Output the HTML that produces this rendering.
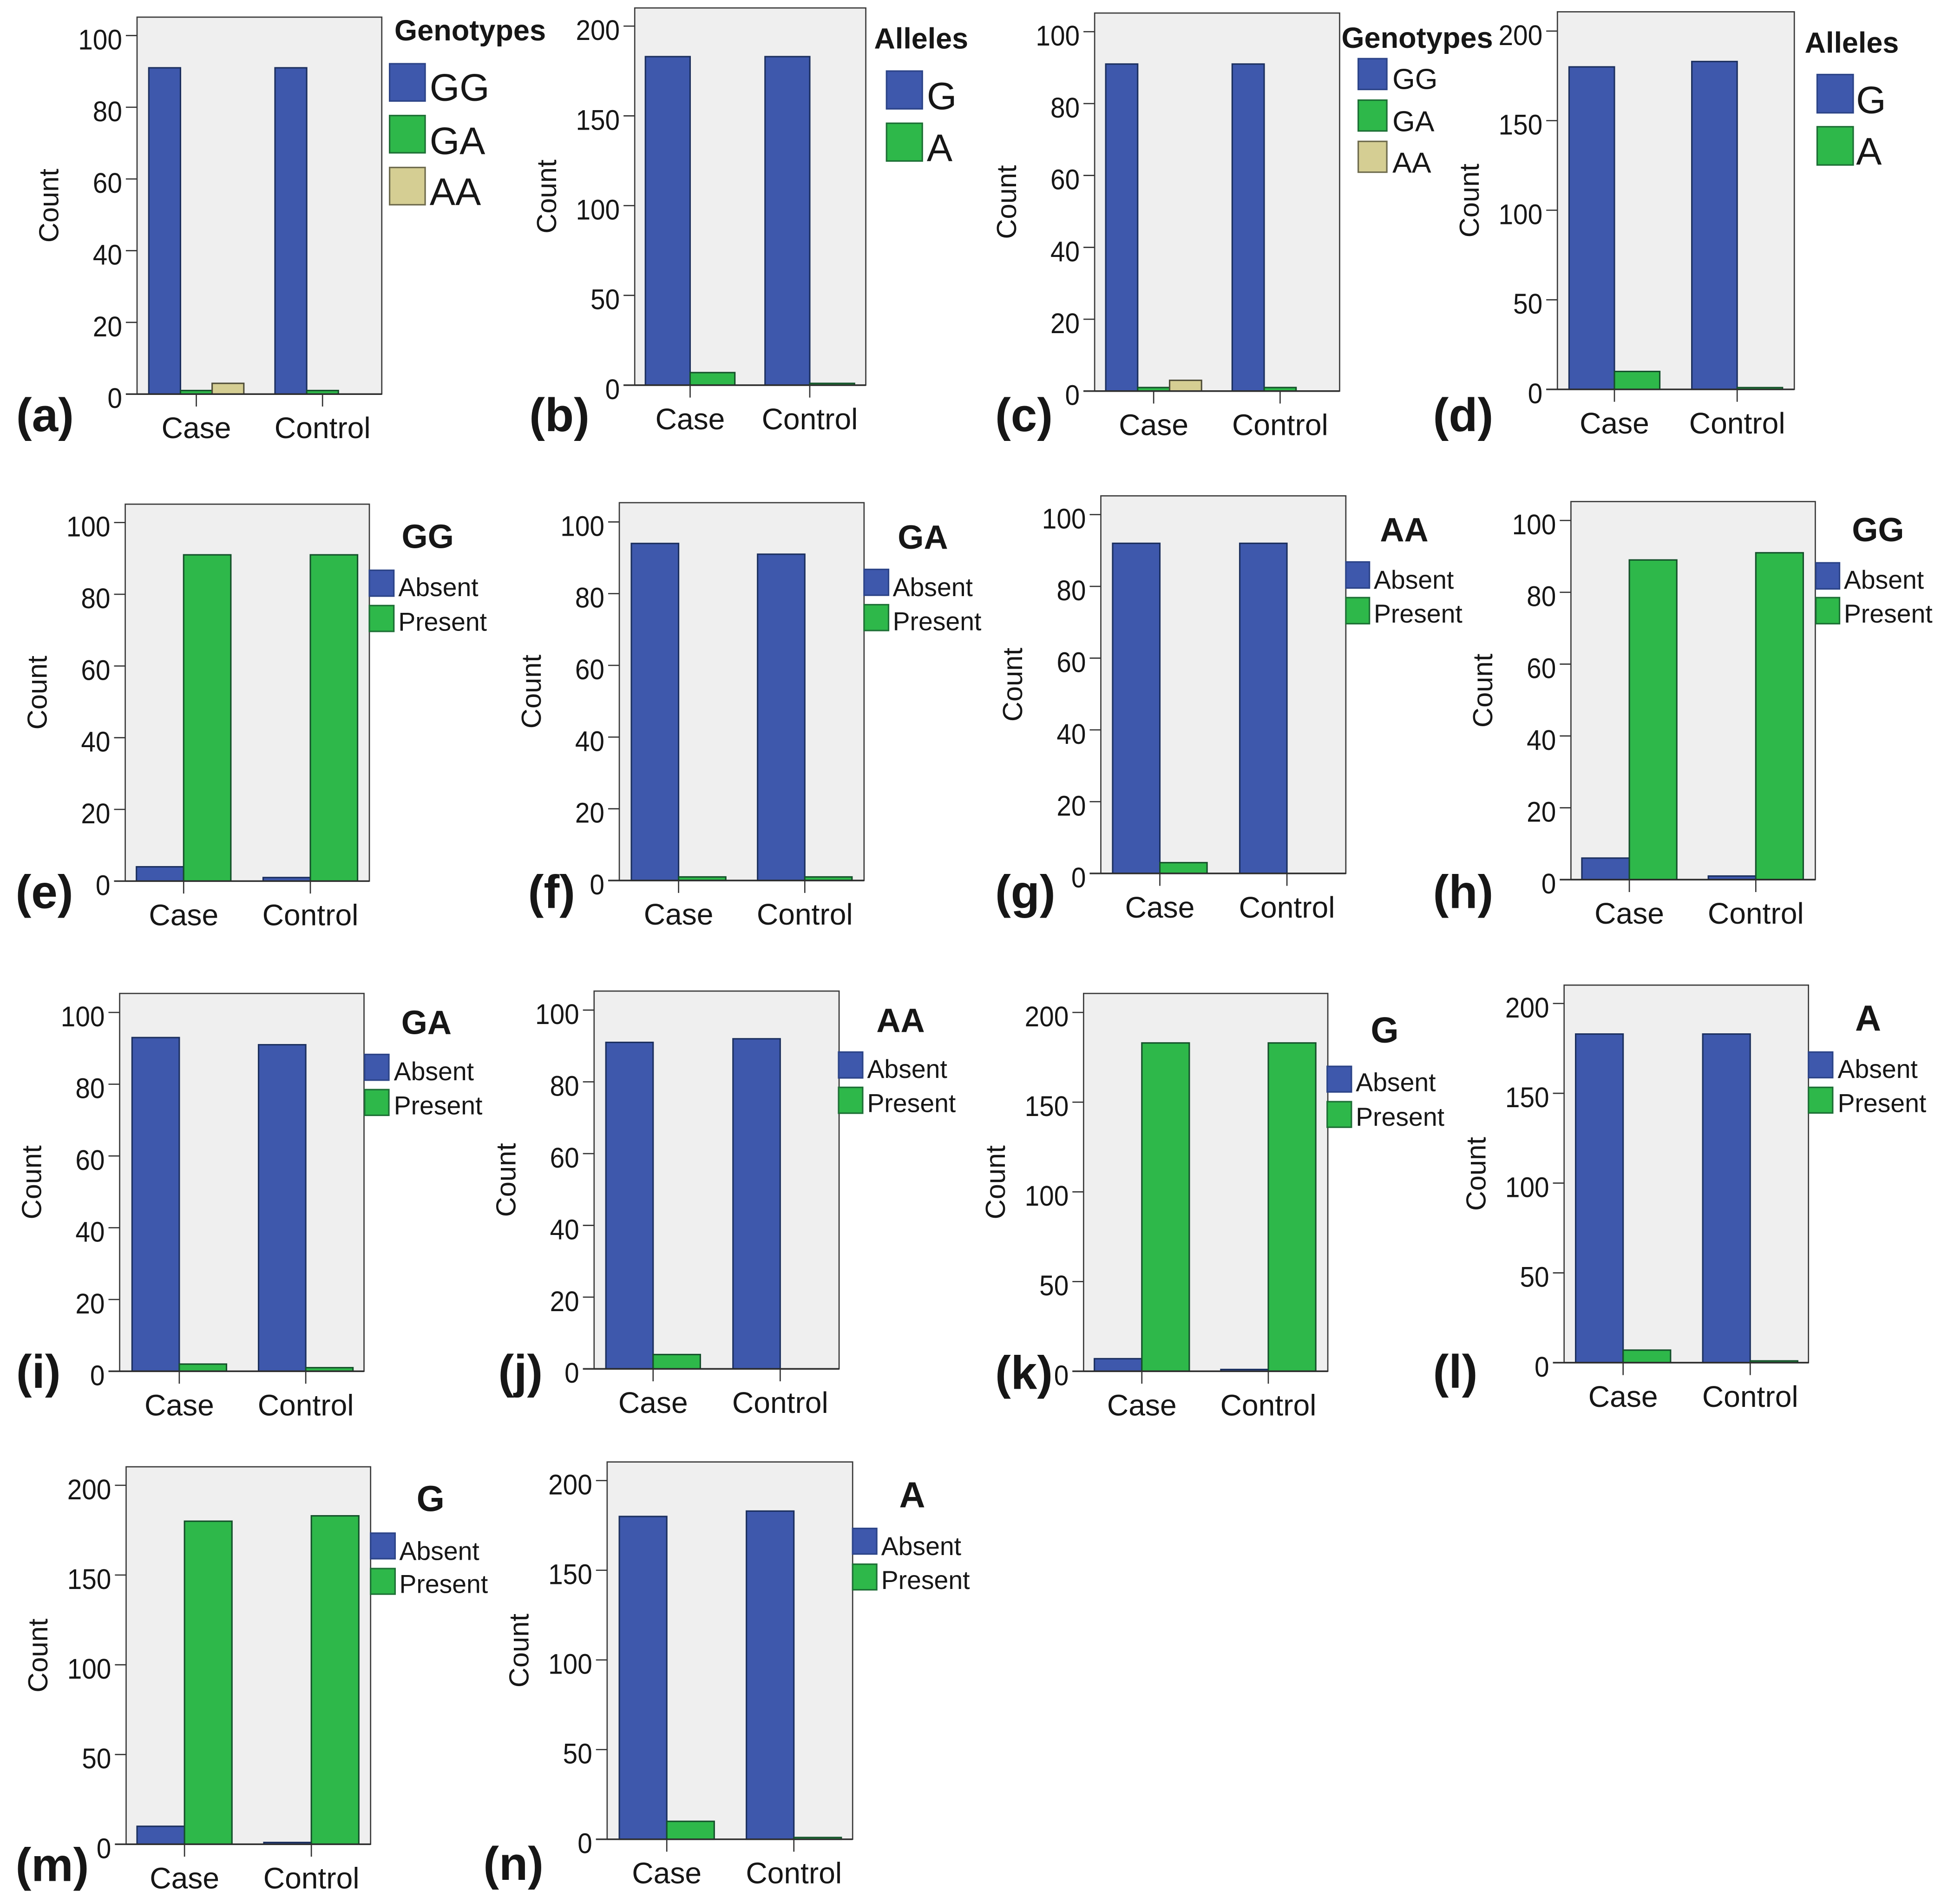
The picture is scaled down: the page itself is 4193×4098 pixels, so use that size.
<!DOCTYPE html>
<html lang="en">
<head>
<meta charset="utf-8">
<title>Genotype and allele count charts</title>
<style>
html,body{margin:0;padding:0;background:#fff;}
svg{display:block;}
text{font-family:"Liberation Sans",sans-serif;fill:#161616;}
</style>
</head>
<body>
<svg id="figure" xmlns="http://www.w3.org/2000/svg" width="4193" height="4098" viewBox="0 0 1568 1532.5"></svg>
<script>
const categories = ['Case', 'Control'];
const ticks100 = [0, 20, 40, 60, 80, 100];
const ticks200 = [0, 50, 100, 150, 200];
const genotypeNames = ['GG', 'GA', 'AA'];
const alleleNames = ['G', 'A'];
const presenceNames = ['Absent', 'Present'];

const aGG = [91, 91];
const aGA = [1, 1];
const aAA = [3, 0];
const bG = [183, 183];
const bA = [7, 1];
const cGG = [91, 91];
const cGA = [1, 1];
const cAA = [3, 0];
const dG = [180, 183];
const dA = [10, 1];
const eAbsent = [4, 1];
const ePresent = [91, 91];
const fAbsent = [94, 91];
const fPresent = [1, 1];
const gAbsent = [92, 92];
const gPresent = [3, 0];
const hAbsent = [6, 1];
const hPresent = [89, 91];
const iAbsent = [93, 91];
const iPresent = [2, 1];
const jAbsent = [91, 92];
const jPresent = [4, 0];
const kAbsent = [7, 1];
const kPresent = [183, 183];
const lAbsent = [183, 183];
const lPresent = [7, 1];
const mAbsent = [10, 1];
const mPresent = [180, 183];
const nAbsent = [180, 183];
const nPresent = [10, 1];

const fills = ['#3e58ac', '#2eb84a', '#d5ce93'];
const swatchEdges = ['#2c4488', '#1d6f35', '#6f6c4e'];
const barEdges = ['#1b2f5e', '#14502a', '#4f4d38'];

const panels = [
  {id:'a', series:[aGG,aGA,aAA], names:genotypeNames, ticks:ticks100, L:110.3, T:13.8, R:307.3, y0:317.2, yTop:28.6, c1:47.7, c2:149.3, bw:25.5, tag:[13,347],
   title:'Genotypes', tx:317.5, ty:32.5, ts:23.6, sx:313.6, sw:28.6, sy:[51.3,93,134.8], sh:30, lx:345.8, ly:[81,124,165], ls:31},
  {id:'b', series:[bG,bA], names:alleleNames, ticks:ticks200, L:510.9, T:6.4, R:696.9, y0:310, yTop:21, c1:44.6, c2:140.9, bw:36, tag:[426,347],
   title:'Alleles', tx:703.6, ty:39, ts:23.5, sx:713.6, sw:28.8, sy:[57.2,99.2], sh:30.4, lx:746, ly:[87.8,129.5], ls:31},
  {id:'c', series:[cGG,cGA,cAA], names:genotypeNames, ticks:ticks100, L:881.1, T:10.5, R:1078.3, y0:314.8, yTop:25.5, c1:47.5, c2:149.3, bw:25.7, tag:[801,347],
   title:'Genotypes', tx:1079.8, ty:38.6, ts:23.6, sx:1093.3, sw:23, sy:[47.2,80.6,113.8], sh:24.8, lx:1120.8, ly:[71.6,105.7,139], ls:23.4},
  {id:'d', series:[dG,dA], names:alleleNames, ticks:ticks200, L:1253.6, T:9.5, R:1444.3, y0:313.4, yTop:25, c1:45.9, c2:144.7, bw:36.5, tag:[1153.5,347],
   title:'Alleles', tx:1452.7, ty:42.5, ts:23.5, sx:1462.7, sw:29, sy:[60,102], sh:30.8, lx:1494, ly:[91,132.4], ls:31},
  {id:'e', series:[eAbsent,ePresent], names:presenceNames, ticks:ticks100, L:100.8, T:405.8, R:297.3, y0:709.2, yTop:420.6, c1:47, c2:149, bw:38, tag:[12.5,731],
   title:'GG', tx:323.3, ty:441, ts:27, sx:297.3, sw:19.7, sy:[459,487.4], sh:20.8, lx:320.6, ly:[479.8,507.7], ls:20.7},
  {id:'f', series:[fAbsent,fPresent], names:presenceNames, ticks:ticks100, L:498.5, T:404.6, R:695.5, y0:708.7, yTop:420.1, c1:47.7, c2:149.3, bw:38, tag:[425,731],
   title:'GA', tx:722.6, ty:441.6, ts:27, sx:695.5, sw:19.7, sy:[458.3,486.7], sh:20.8, lx:718.6, ly:[479.8,507.2], ls:20.7},
  {id:'g', series:[gAbsent,gPresent], names:presenceNames, ticks:ticks100, L:886.1, T:399.1, R:1083.3, y0:703, yTop:414.2, c1:47.5, c2:149.8, bw:38, tag:[801,731],
   title:'AA', tx:1110.8, ty:435.6, ts:27, sx:1083.3, sw:19, sy:[452.3,481], sh:21, lx:1105.8, ly:[473.8,501.2], ls:20.7},
  {id:'h', series:[hAbsent,hPresent], names:presenceNames, ticks:ticks100, L:1264.5, T:403.7, R:1461.2, y0:708, yTop:418.9, c1:47, c2:148.8, bw:38.2, tag:[1153.5,731],
   title:'GG', tx:1490.7, ty:435.6, ts:27, sx:1461.7, sw:19, sy:[453,481], sh:21, lx:1484.2, ly:[473.8,501.2], ls:20.7},
  {id:'i', series:[iAbsent,iPresent], names:presenceNames, ticks:ticks100, L:96.3, T:799.6, R:293, y0:1103.7, yTop:814.9, c1:48, c2:149.8, bw:38, tag:[13,1117],
   title:'GA', tx:323, ty:832.3, ts:27, sx:293.5, sw:19.5, sy:[848.7,877], sh:20.7, lx:317, ly:[869.5,897], ls:20.7},
  {id:'j', series:[jAbsent,jPresent], names:presenceNames, ticks:ticks100, L:478.2, T:797.7, R:675.4, y0:1101.8, yTop:813, c1:47.5, c2:149.8, bw:38, tag:[401,1117],
   title:'AA', tx:705.4, ty:830.6, ts:27, sx:675, sw:19.4, sy:[846.8,875.2], sh:20.8, lx:698, ly:[867.6,895], ls:20.7},
  {id:'k', series:[kAbsent,kPresent], names:presenceNames, ticks:ticks200, L:872.2, T:799.6, R:1068.8, y0:1103.7, yTop:814.9, c1:46.9, c2:148.7, bw:38.2, tag:[801,1118],
   title:'G', tx:1103.3, ty:839, ts:29, sx:1068.3, sw:19.5, sy:[858.3,886.7], sh:20.6, lx:1091.3, ly:[878.3,906.2], ls:20.7},
  {id:'l', series:[lAbsent,lPresent], names:presenceNames, ticks:ticks200, L:1259, T:792.9, R:1455.7, y0:1096.8, yTop:807.7, c1:47.5, c2:149.8, bw:38.2, tag:[1153.5,1117],
   title:'A', tx:1493.2, ty:829.4, ts:29, sx:1455.7, sw:19.5, sy:[846.8,875.2], sh:20.6, lx:1479.2, ly:[867.6,895], ls:20.7},
  {id:'m', series:[mAbsent,mPresent], names:presenceNames, ticks:ticks200, L:101.5, T:1180.6, R:298.3, y0:1484.4, yTop:1195.5, c1:47, c2:149.1, bw:38.2, tag:[12.5,1514],
   title:'G', tx:335.3, ty:1216.2, ts:29, sx:298.3, sw:19.7, sy:[1234,1262.5], sh:20.6, lx:321.4, ly:[1255.5,1282.2], ls:20.7},
  {id:'n', series:[nAbsent,nPresent], names:presenceNames, ticks:ticks200, L:488.7, T:1176.7, R:686.3, y0:1480.4, yTop:1191.7, c1:48, c2:150.3, bw:38.2, tag:[389,1513],
   title:'A', tx:723.8, ty:1213.1, ts:29, sx:686.3, sw:19.4, sy:[1230.2,1259], sh:20.6, lx:709.3, ly:[1251.6,1279], ls:20.7}
];

const NS = 'http://www.w3.org/2000/svg';
const figure = document.getElementById('figure');

function shape(parent, tag, props) {
  const el = document.createElementNS(NS, tag);
  for (const k in props) el.setAttribute(k, props[k]);
  parent.appendChild(el);
  return el;
}
function label(parent, str, props) {
  const el = shape(parent, 'text', props);
  el.textContent = str;
  return el;
}

panels.forEach(function (p) {
  const g = shape(figure, 'g', {});
  
  

  const maxTick = p.ticks[p.ticks.length - 1];
  const yScale = function (v) { return p.y0 - (v / maxTick) * (p.y0 - p.yTop); };
  const xScale = function (i) { return p.L + (i === 0 ? p.c1 : p.c2); };

  const plot = shape(g, 'rect', {x:p.L, y:p.T, width:p.R - p.L, height:p.y0 - p.T, fill:'#efefef', stroke:'#3a3a3a', 'stroke-width':1});
  
  

  p.series.forEach(function (vals, s) {
    vals.forEach(function (v, i) {
      if (v <= 0) return;
      const x = xScale(i) - p.series.length * p.bw / 2 + s * p.bw;
      const bar = shape(g, 'rect', {x:x, y:yScale(v), width:p.bw, height:p.y0 - yScale(v), fill:fills[s], stroke:barEdges[s], 'stroke-width':1.15});
      
      
    });
  });

  const baseline = shape(g, 'line', {x1:p.L - 9, x2:p.R, y1:p.y0, y2:p.y0, stroke:'#2c2c2c', 'stroke-width':1.3});
  
  

  p.ticks.forEach(function (t) {
    const y = yScale(t);
    const mark = shape(g, 'line', {x1:p.L - 9, x2:p.L, y1:y, y2:y, stroke:'#333', 'stroke-width':1});
    
    
    const txt = label(g, String(t), {x:p.L - 12, y:y + 11.2, 'text-anchor':'end', 'font-size':23, textLength:String(t).length * 11.8, lengthAdjust:'spacingAndGlyphs'});
    
    
  });

  categories.forEach(function (c, i) {
    const x = xScale(i);
    const mark = shape(g, 'line', {x1:x, x2:x, y1:p.y0, y2:p.y0 + 10, stroke:'#333', 'stroke-width':1});
    
    
    const txt = label(g, c, {x:x, y:p.y0 + 35.5, 'text-anchor':'middle', 'font-size':24});
    
    
  });

  const cx = p.L - 63.3;
  const cy = (p.T + p.y0) / 2;
  const count = label(g, 'Count', {x:cx, y:cy, 'text-anchor':'middle', 'font-size':22.3, transform:'rotate(-90 ' + cx + ' ' + cy + ')'});
  
  

  const title = label(g, p.title, {x:p.tx, y:p.ty, 'font-size':p.ts, 'font-weight':'bold'});
  
  

  p.names.forEach(function (n, s) {
    const sw = shape(g, 'rect', {x:p.sx, y:p.sy[s], width:p.sw, height:p.sh, fill:fills[s], stroke:swatchEdges[s], 'stroke-width':1.2});
    
    
    const txt = label(g, n, {x:p.lx, y:p.ly[s], 'font-size':p.ls});
    
    
  });

  const tag = label(g, '(' + p.id + ')', {x:p.tag[0], y:p.tag[1], 'font-size':38, 'font-weight':'bold'});
  
  
});
</script>
</body>
</html>
